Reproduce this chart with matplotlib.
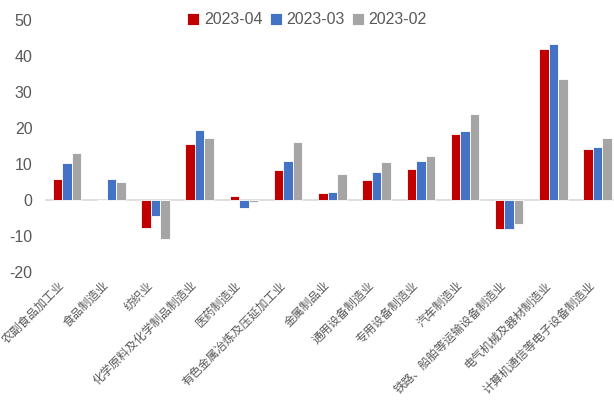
import matplotlib
matplotlib.use("Agg")
import matplotlib.pyplot as plt
import numpy as np

categories = ["农副食品加工业", "食品制造业", "纺织业", "化学原料及化学制品制造业", "医药制造业",
              "有色金属冶炼及压延加工业", "金属制品业", "通用设备制造业", "专用设备制造业",
              "汽车制造业", "铁路、船舶等运输设备制造业", "电气机械及器材制造业",
              "计算机通信等电子设备制造业"]
series_names = ["2023-04", "2023-03", "2023-02"]
v_2023_04 = [5.7, 0.0, -7.8, 15.4, 1.1, 8.2, 1.9, 5.6, 8.6, 18.4, -8.2, 41.9, 14.2]
v_2023_03 = [10.2, 5.8, -4.6, 19.3, -2.3, 10.8, 2.3, 7.8, 10.7, 19.2, -8.2, 43.2, 14.7]
v_2023_02 = [13.1, 5.0, -11.0, 17.2, -0.6, 16.1, 7.3, 10.4, 12.2, 23.8, -6.7, 33.6, 17.2]
y_ticks = [-20, -10, 0, 10, 20, 30, 40, 50]

colors = ["#C00000", "#4472C4", "#A5A5A5"]

plt.rcParams['font.family'] = ['Liberation Sans', 'Noto Sans CJK SC', 'DejaVu Sans']

fig = plt.figure(figsize=(6.14, 4.07), dpi=100)
ax = fig.add_axes([0.0733, 0.332, 0.936, 0.619])

x = np.arange(len(categories))
w = 0.215
for i, (vals, c, name) in enumerate(zip([v_2023_04, v_2023_03, v_2023_02], colors, series_names)):
    ax.bar(x + (i - 1) * w, vals, width=w, color=c, edgecolor="white", linewidth=0.6, label=name, zorder=2)

ax.axhline(0, color="#D9D9D9", linewidth=1.2, zorder=1)
ax.set_xlim(-0.5, 12.5)
ax.set_ylim(-20, 50)
ax.set_yticks(y_ticks)
ax.set_yticklabels([str(t) for t in y_ticks], fontsize=11.5, color="#595959")
ax.set_xticks(x)
ax.set_xticklabels(categories, rotation=45, ha="right", va="top", fontsize=8.5,
                   color="#595959", family=['Noto Sans CJK SC', 'DejaVu Sans'])
ax.tick_params(axis="both", length=0)
ax.tick_params(axis="x", pad=5)
ax.tick_params(axis="y", pad=9)
for s in ax.spines.values():
    s.set_visible(False)

fig.legend(loc="center", bbox_to_anchor=(0.5, 0.951), ncol=3, frameon=False,
           fontsize=11.5, handlelength=0.75, handleheight=0.75, handletextpad=0.3,
           columnspacing=0.45, labelcolor="#595959")

fig.savefig("out.png", dpi=100)
